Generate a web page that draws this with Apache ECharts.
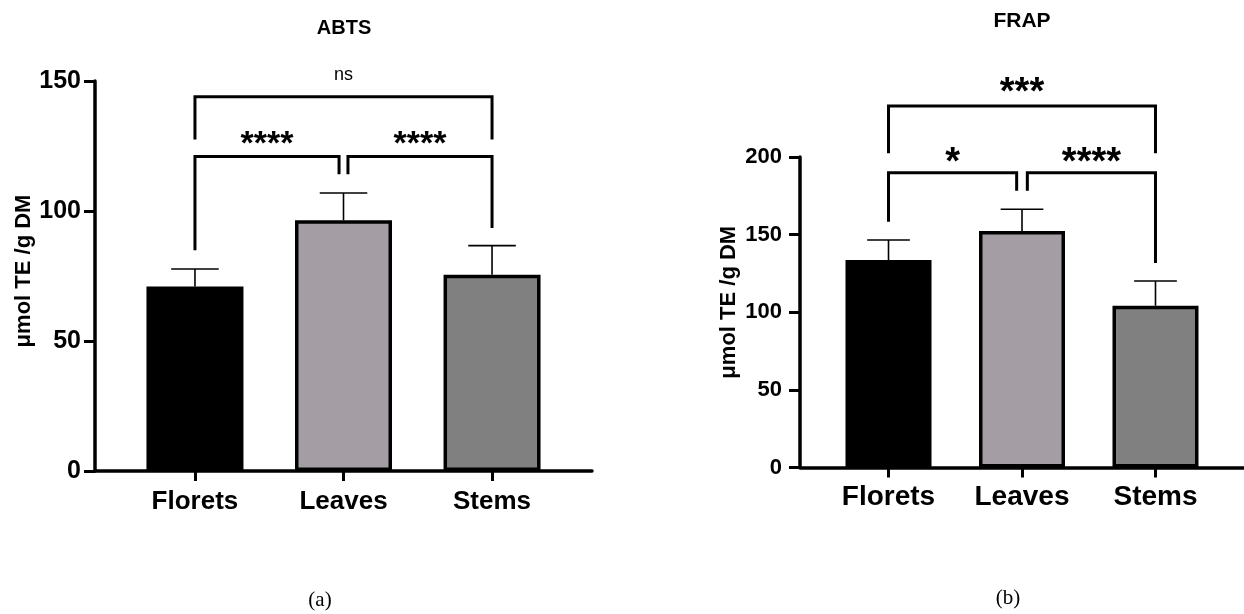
<!DOCTYPE html>
<html><head><meta charset="utf-8">
<script src="https://cdn.jsdelivr.net/npm/echarts@6/dist/echarts.min.js"></script>
<style>html,body{margin:0;padding:0;background:#fff}#c{width:1244px;height:614px}</style>
</head><body><div id="c"></div>
<script>
// ---------- data ----------
const categories = ['Florets', 'Leaves', 'Stems'];
const abtsMean = [71.0, 96.4, 75.5];
const abtsErr = [6.7, 10.5, 11.2];
const frapMean = [133.6, 152.3, 104.2];
const frapErr = [12.9, 14.0, 15.9];
// brackets: [xStart, xEnd, yTop, yLeftEnd, yRightEnd]
const abtsBrackets = [[1, 1.97, 121.0, 84.9, 114.1], [2.03, 3, 121.0, 114.1, 93.5], [1, 3, 143.9, 127.5, 127.5]];
const abtsSig = ['****', '****', 'ns'];
const abtsSigY = [128.5, 128.5, 151.5];
const frapBrackets = [[1, 1.96, 189.9, 158.3, 178.3], [2.04, 3, 189.9, 178.3, 131.8], [1, 3, 232.8, 202.4, 202.4]];
const frapSig = ['*', '****', '***'];
const frapSigY = [200.9, 200.9, 246.4];
const abtsTitle = 'ABTS';
const frapTitle = 'FRAP';
const yName = 'μmol TE /g DM';

// ---------- styles ----------
const barColors = ['#000000', '#a49ea4', '#808080'];
const FONT = '"Liberation Sans", Arial, Helvetica, sans-serif';
const positions = categories.map((c, i) => i + 1);

function axes(gi, cfg) {
  const x = {
    gridIndex: gi, type: 'value', min: cfg.xmin, max: cfg.xmax,
    axisLine: { show: true, onZero: false, lineStyle: { color: '#000', width: 3.5 } },
    axisTick: { show: true, customValues: positions, length: 10, lineStyle: { color: '#000', width: 3 } },
    axisLabel: { customValues: positions, formatter: v => categories[Math.round(v) - 1],
      fontSize: cfg.catSize, fontWeight: 'bold', fontFamily: FONT, color: '#000', margin: cfg.catMargin },
    splitLine: { show: false }
  };
  const y = {
    gridIndex: gi, type: 'value', min: 0, max: cfg.ymax, interval: 50,
    axisLine: { show: true, lineStyle: { color: '#000', width: 3.5 } },
    axisTick: { show: true, length: 11, lineStyle: { color: '#000', width: 3 } },
    axisLabel: { fontSize: cfg.tickSize, fontWeight: 'bold', fontFamily: FONT, color: '#000', margin: cfg.tickMargin },
    splitLine: { show: false },
    name: yName, nameLocation: 'middle', nameGap: cfg.nameGap,
    nameTextStyle: { fontSize: 22, fontWeight: 'bold', fontFamily: FONT, color: '#000', padding: cfg.namePad }
  };
  return [x, y];
}

function seriesFor(gi, mean, err, brackets, sig, sigY, cfg) {
  return [
    {
      type: 'bar', xAxisIndex: gi, yAxisIndex: gi, barWidth: cfg.barWidth,
      data: positions.map((p, i) => ({ value: [p, mean[i]],
        itemStyle: { color: barColors[i], borderColor: '#000', borderWidth: 3.5 } })),
      silent: true
    },
    {
      type: 'custom', xAxisIndex: gi, yAxisIndex: gi, z: 5, silent: true,
      data: positions.map((p, i) => [p, mean[i], err[i]]),
      encode: { x: 0, y: 1 },
      renderItem: (params, api) => {
        const x = api.value(0), m = api.value(1), e = api.value(2);
        const p0 = api.coord([x, m]);
        const p1 = api.coord([x, m + e]);
        const hw = api.size([0.16, 0])[0];
        const st = { stroke: '#000', lineWidth: 1.6 };
        return { type: 'group', children: [
          { type: 'line', shape: { x1: p0[0], y1: p0[1], x2: p1[0], y2: p1[1] }, style: st },
          { type: 'line', shape: { x1: p1[0] - hw, y1: p1[1], x2: p1[0] + hw, y2: p1[1] }, style: st }
        ] };
      }
    },
    {
      type: 'custom', xAxisIndex: gi, yAxisIndex: gi, z: 6, silent: true, clip: false,
      data: brackets.map((b, i) => [b[0], b[2], b[1], b[3], b[4], sigY[i]]),
      encode: { x: 0, y: 1 },
      renderItem: (params, api) => {
        const x1 = api.value(0), top = api.value(1), x2 = api.value(2), l = api.value(3), r = api.value(4), ly = api.value(5);
        const pts = [[x1, l], [x1, top], [x2, top], [x2, r]].map(p => api.coord(p));
        const label = sig[params.dataIndex];
        const c = api.coord([(x1 + x2) / 2, ly]);
        const isStar = label.indexOf('*') >= 0;
        const fs = isStar ? cfg.starSize : 18;
        const dy = isStar ? 0.215 * fs : -0.09 * fs;
        return { type: 'group', children: [
          { type: 'polyline', shape: { points: pts }, style: { stroke: '#000', lineWidth: 3, fill: null, lineJoin: 'miter', lineCap: 'butt' } },
          { type: 'text', x: c[0], y: c[1] + dy, style: { text: label, fill: '#000', align: 'center', verticalAlign: 'middle',
            font: (isStar ? 'bold ' : '') + fs + 'px ' + FONT } }
        ] };
      }
    }
  ];
}

const cfgA = { xmin: 0.327, xmax: 3.673, ymax: 150, catSize: 26, catMargin: 18, tickSize: 25, tickMargin: 14, nameGap: 60, namePad: [0, 0, 0, 10], barWidth: 97, starSize: 34 };
const cfgB = { xmin: 0.337, xmax: 3.663, ymax: 200, catSize: 28, catMargin: 16, tickSize: 22, tickMargin: 18, nameGap: 60, namePad: [0, 0, 0, 20], barWidth: 86, starSize: 38 };

const [xa, ya] = axes(0, cfgA);
const [xb, yb] = axes(1, cfgB);

const option = {
  animation: false,
  backgroundColor: '#fff',
  grid: [
    { left: 95, top: 81, width: 497, height: 390 },
    { left: 800, top: 157, width: 444, height: 310.5 }
  ],
  xAxis: [xa, xb],
  yAxis: [ya, yb],
  series: [
    ...seriesFor(0, abtsMean, abtsErr, abtsBrackets, abtsSig, abtsSigY, cfgA),
    ...seriesFor(1, frapMean, frapErr, frapBrackets, frapSig, frapSigY, cfgB)
  ],
  graphic: [
    { type: 'text', x: 344, y: 28, style: { text: abtsTitle, font: 'bold 20px ' + FONT, fill: '#000', align: 'center', verticalAlign: 'middle' } },
    { type: 'text', x: 1022, y: 21, style: { text: frapTitle, font: 'bold 21px ' + FONT, fill: '#000', align: 'center', verticalAlign: 'middle' } },
    { type: 'text', x: 320, y: 600, style: { text: '(a)', font: '21px "Liberation Serif", "DejaVu Serif", serif', fill: '#000', align: 'center', verticalAlign: 'middle' } },
    { type: 'text', x: 1008, y: 598, style: { text: '(b)', font: '21px "Liberation Serif", "DejaVu Serif", serif', fill: '#000', align: 'center', verticalAlign: 'middle' } }
  ]
};

echarts.init(document.getElementById('c'), null, { renderer: 'canvas' }).setOption(option);
</script>
</body></html>
